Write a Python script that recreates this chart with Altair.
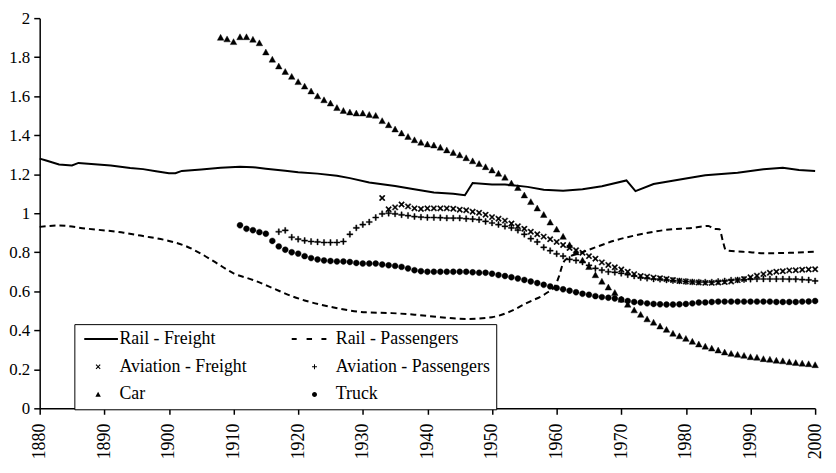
import altair as alt
import pandas as pd

# ---------------- data ----------------
series_names = ["Rail - Freight", "Rail - Passengers", "Aviation - Freight",
                "Aviation - Passengers", "Car", "Truck"]

x_ticks = [1880, 1890, 1900, 1910, 1920, 1930, 1940, 1950, 1960, 1970, 1980, 1990, 2000]
y_ticks = [0, 0.2, 0.4, 0.6, 0.8, 1, 1.2, 1.4, 1.6, 1.8, 2]

rail_freight_years = [1880, 1881, 1883, 1885, 1886, 1889, 1891, 1894, 1896, 1898,
                      1900, 1901, 1902, 1905, 1908, 1911, 1913, 1915, 1918, 1920,
                      1923, 1926, 1928, 1931, 1935, 1937.5, 1941, 1944, 1945.8, 1947,
                      1950, 1952, 1955.5, 1958, 1961, 1964, 1967, 1970.8, 1972.2, 1975,
                      1980, 1983, 1988, 1992, 1995, 1997.5, 2000]
rail_freight_vals = [1.28, 1.27, 1.25, 1.245, 1.258, 1.25, 1.245, 1.232, 1.226, 1.215,
                     1.205, 1.205, 1.217, 1.224, 1.233, 1.238, 1.236, 1.228, 1.218, 1.21,
                     1.203, 1.192, 1.18, 1.158, 1.14, 1.125, 1.106, 1.10, 1.092, 1.155,
                     1.147, 1.147, 1.135, 1.12, 1.115, 1.123, 1.138, 1.168, 1.113, 1.15,
                     1.178, 1.195, 1.208, 1.225, 1.233, 1.222, 1.217]

rail_pass_years = [1880, 1883, 1887, 1893, 1896, 1900, 1902.5, 1905, 1907.5, 1910,
                   1913, 1916, 1919, 1921, 1925.5, 1930.5, 1934.5, 1938, 1942, 1946,
                   1950, 1952.5, 1955.5, 1958.5, 1959.7, 1960.4, 1961, 1961.7, 1964, 1966,
                   1969, 1972, 1977, 1981, 1983.5, 1984.3, 1985.2, 1985.7, 1986.2, 1990,
                   1992, 1996, 2000]
rail_pass_vals = [0.93, 0.937, 0.922, 0.90, 0.883, 0.858, 0.833, 0.792, 0.742, 0.692,
                  0.658, 0.617, 0.575, 0.553, 0.517, 0.492, 0.488, 0.48, 0.467, 0.458,
                  0.467, 0.492, 0.542, 0.592, 0.625, 0.68, 0.745, 0.77, 0.80, 0.825,
                  0.86, 0.885, 0.915, 0.925, 0.935, 0.92, 0.918, 0.86, 0.81, 0.80,
                  0.795, 0.797, 0.803]

car_start = 1908
car_vals = [1.90, 1.892,                                                   # 1908-09
            1.878, 1.903, 1.903, 1.89, 1.872, 1.825, 1.788, 1.753, 1.725, 1.70,   # 1910s
            1.673, 1.65, 1.625, 1.60, 1.58, 1.563, 1.54, 1.525, 1.517, 1.512,     # 1920s
            1.512, 1.505, 1.50, 1.473, 1.452, 1.43, 1.41, 1.392, 1.375, 1.362,    # 1930s
            1.353, 1.348, 1.337, 1.323, 1.31, 1.298, 1.283, 1.267, 1.253, 1.237,  # 1940s
            1.22, 1.203, 1.183, 1.153, 1.13, 1.092, 1.058, 1.025, 0.992, 0.953,   # 1950s
            0.917, 0.88, 0.837, 0.80, 0.758, 0.725, 0.683, 0.65, 0.62, 0.592,     # 1960s
            0.558, 0.532, 0.503, 0.48, 0.457, 0.44, 0.42, 0.403, 0.383, 0.37,     # 1970s
            0.357, 0.342, 0.328, 0.317, 0.307, 0.297, 0.287, 0.28, 0.275, 0.27,   # 1980s
            0.263, 0.26, 0.253, 0.25, 0.245, 0.242, 0.237, 0.233, 0.23, 0.227,    # 1990s
            0.222]                                                         # 2000

truck_start = 1911
truck_vals = [0.938, 0.92, 0.913, 0.903, 0.895, 0.858, 0.83, 0.813, 0.80,   # 1911-19
              0.793, 0.78, 0.77, 0.763, 0.758, 0.755, 0.753, 0.753, 0.75, 0.745,   # 1920s
              0.742, 0.742, 0.742, 0.737, 0.733, 0.73, 0.725, 0.717, 0.708, 0.703, # 1930s
              0.70, 0.70, 0.70, 0.70, 0.70, 0.70, 0.70, 0.697, 0.695, 0.695,       # 1940s
              0.69, 0.683, 0.678, 0.672, 0.665, 0.658, 0.65, 0.642, 0.633, 0.625,  # 1950s
              0.617, 0.61, 0.603, 0.595, 0.587, 0.582, 0.575, 0.57, 0.567, 0.563,  # 1960s
              0.558, 0.55, 0.545, 0.542, 0.538, 0.535, 0.533, 0.532, 0.532, 0.533, # 1970s
              0.535, 0.538, 0.542, 0.543, 0.545, 0.547, 0.547, 0.547, 0.547, 0.547, # 1980s
              0.547, 0.547, 0.547, 0.547, 0.545, 0.545, 0.545, 0.545, 0.547, 0.548, # 1990s
              0.55]                                                          # 2000

avp_start = 1917
aviation_pass_vals = [0.905, 0.912, 0.877,                                   # 1917-19
                      0.867, 0.86, 0.855, 0.853, 0.85, 0.85, 0.85, 0.855, 0.892, 0.925,   # 1920s
                      0.942, 0.955, 0.978, 0.997, 1.00, 0.997, 0.992, 0.988, 0.983, 0.98, # 1930s
                      0.978, 0.978, 0.977, 0.975, 0.975, 0.975, 0.972, 0.97, 0.967, 0.958, # 1940s
                      0.95, 0.942, 0.933, 0.925, 0.913, 0.892, 0.87, 0.853, 0.825, 0.808, # 1950s
                      0.792, 0.78, 0.763, 0.758, 0.75, 0.733, 0.717, 0.708, 0.70, 0.697,  # 1960s
                      0.692, 0.685, 0.678, 0.67, 0.667, 0.663, 0.662, 0.658, 0.655, 0.653, # 1970s
                      0.65, 0.648, 0.647, 0.647, 0.647, 0.65, 0.653, 0.657, 0.658, 0.66,  # 1980s
                      0.662, 0.663, 0.663, 0.663, 0.663, 0.663, 0.662, 0.662, 0.66, 0.658, # 1990s
                      0.653]                                                 # 2000

avf_start = 1933
aviation_freight_vals = [1.078, 1.02, 1.03, 1.045, 1.035, 1.025, 1.022,       # 1933-39
                         1.025, 1.025, 1.025, 1.025, 1.023, 1.018, 1.015, 1.008, 1.002, 0.992, # 1940s
                         0.98, 0.972, 0.962, 0.947, 0.933, 0.92, 0.905, 0.892, 0.88, 0.867,  # 1950s
                         0.853, 0.837, 0.822, 0.81, 0.797, 0.78, 0.767, 0.748, 0.735, 0.723, # 1960s
                         0.712, 0.70, 0.688, 0.678, 0.675, 0.67, 0.667, 0.663, 0.658, 0.653, # 1970s
                         0.65, 0.647, 0.645, 0.643, 0.643, 0.645, 0.647, 0.65, 0.657, 0.663, # 1980s
                         0.672, 0.68, 0.688, 0.695, 0.70, 0.703, 0.707, 0.708, 0.71, 0.712,  # 1990s
                         0.713]                                              # 2000

# ---------------- tables ----------------
rf_df = pd.DataFrame({"year": rail_freight_years, "value": rail_freight_vals})
rp_df = pd.DataFrame({"year": rail_pass_years, "value": rail_pass_vals})

frames = []
for name, start, vals in [("Aviation - Freight", avf_start, aviation_freight_vals),
                          ("Aviation - Passengers", avp_start, aviation_pass_vals),
                          ("Car", car_start, car_vals),
                          ("Truck", truck_start, truck_vals)]:
    frames.append(pd.DataFrame({"year": [start + i for i in range(len(vals))],
                                "value": vals, "series": name}))
pts_df = pd.concat(frames, ignore_index=True)

# filled symbol outlines (unit coordinates) shared by legend and markers
shape_paths = [
    # solid line sample
    "M-2.8,-0.2H4V0.2H-2.8Z",
    # dashed line sample
    "M-4.6,-0.2H-3.6V0.2H-4.6ZM-1.6,-0.2H-0.5V0.2H-1.6ZM1.4,-0.2H2.4V0.2H1.4Z",
    # x
    "M-0.34,-0.5L0.5,0.34L0.34,0.5L-0.5,-0.34ZM-0.5,0.34L0.34,-0.5L0.5,-0.34L-0.34,0.5Z",
    # +
    "M-0.5,-0.1H0.5V0.1H-0.5ZM-0.1,-0.5H0.1V0.5H-0.1Z",
    # triangle
    "M0,-0.55L0.55,0.45L-0.55,0.45Z",
    # circle
    "M0.5,0A0.5,0.5,0,1,1,-0.5,0A0.5,0.5,0,1,1,0.5,0Z",
]

FONT = "Liberation Serif"

x_enc = alt.X("year:Q",
              scale=alt.Scale(domain=[1880, 2000], nice=False, zero=False),
              axis=alt.Axis(values=x_ticks, format="d", labelAngle=270, title=None,
                            grid=False, tickSize=6, labelPadding=9, labelFontSize=18))
y_enc = alt.Y("value:Q",
              scale=alt.Scale(domain=[0, 2], nice=False, zero=True),
              axis=alt.Axis(values=y_ticks, format="~g", title=None, grid=False,
                            tickSize=6, labelPadding=4, labelFontSize=17))

rf_line = alt.Chart(rf_df).mark_line(color="black", strokeWidth=2).encode(x=x_enc, y=y_enc)
rp_line = alt.Chart(rp_df).mark_line(color="black", strokeWidth=2, strokeDash=[6, 4],
                                     interpolate="monotone").encode(x=x_enc, y=y_enc)

pts = alt.Chart(pts_df).mark_point(size=144, filled=False, fill="black", stroke="black",
                                   strokeWidth=0.4, opacity=1).encode(
    x=x_enc, y=y_enc,
    shape=alt.Shape("series:N",
                    scale=alt.Scale(domain=series_names, range=shape_paths),
                    legend=alt.Legend(title=None, orient="none", legendX=35, legendY=309,
                                      direction="horizontal",
                                      columns=2, columnPadding=43.5, rowPadding=10,
                                      padding=6, strokeColor="black", fillColor="white",
                                      labelFont=FONT, labelFontSize=18, labelColor="black",
                                      labelOffset=12.5, symbolOffset=9, symbolSize=100,
                                      symbolStrokeWidth=0.4, symbolFillColor="black",
                                      symbolStrokeColor="black", symbolOpacity=1)),
)

chart = alt.layer(rf_line, rp_line, pts).properties(
    width=783, height=394,
    padding={"left": 32, "top": 8, "right": 13, "bottom": 55},
    autosize=alt.AutoSizeParams(type="none"),
).configure_view(strokeWidth=0).configure_axis(
    domainColor="black", domainWidth=1.5, tickColor="black", tickWidth=1.5,
    labelFont=FONT, labelColor="black",
)

chart.save("out.html", embed_options={"renderer": "svg", "actions": False})
